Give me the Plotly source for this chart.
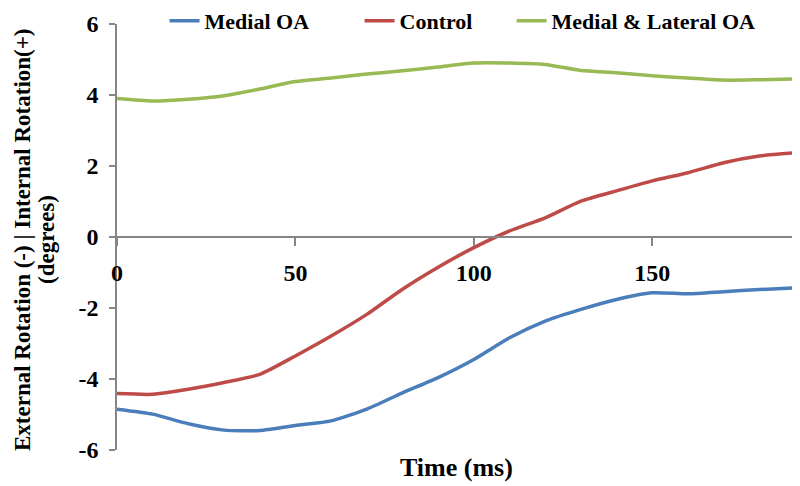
import plotly.graph_objects as go

time_ms = [0, 10, 20, 30, 40, 50, 60, 70, 80, 90, 100, 110, 120, 130, 140, 150, 160, 170, 180, 190]
medial_oa = [-4.85, -4.99, -5.26, -5.44, -5.45, -5.31, -5.18, -4.85, -4.39, -3.96, -3.45, -2.84, -2.37, -2.04, -1.76, -1.57, -1.60, -1.54, -1.48, -1.43]
control = [-4.41, -4.43, -4.29, -4.10, -3.87, -3.35, -2.79, -2.18, -1.47, -0.85, -0.30, 0.17, 0.54, 1.01, 1.30, 1.58, 1.81, 2.09, 2.28, 2.37]
medial_lateral_oa = [3.90, 3.83, 3.88, 3.98, 4.17, 4.38, 4.48, 4.59, 4.68, 4.79, 4.90, 4.90, 4.86, 4.69, 4.63, 4.54, 4.48, 4.42, 4.43, 4.45]

x_ticks = [0, 50, 100, 150]
y_ticks = [-6, -4, -2, 0, 2, 4, 6]
y_tick_labels = ["-6", "-4", "-2", "0", "2", "4", "6"]

FONT = "Liberation Serif"
LEG_FONT = dict(family=FONT, size=22, color="black", weight="bold")

fig = go.Figure()
series = [
    ("Medial OA", medial_oa, "#4A7EBB", "legend", 0.0701),
    ("Control", control, "#BE4B48", "legend2", 0.3577),
    ("Medial & Lateral OA", medial_lateral_oa, "#98B954", "legend3", 0.5819),
]
legends = {}
for name, vals, color, leg, lx in series:
    fig.add_trace(go.Scatter(
        x=time_ms, y=vals, name=name, mode="lines", legend=leg,
        line=dict(color=color, width=3.5, shape="spline", smoothing=0.6),
    ))
    legends[leg] = dict(
        orientation="h", x=lx, xanchor="left", y=1.007, yanchor="middle",
        font=LEG_FONT, bgcolor="rgba(0,0,0,0)", itemwidth=30,
    )

fig.update_layout(
    width=800, height=486,
    margin=dict(l=109, r=13, t=16, b=44, autoexpand=False),
    paper_bgcolor="white", plot_bgcolor="white",
    font=dict(family=FONT, color="black"),
    showlegend=True,
    **legends,
    xaxis=dict(
        range=[0, 190], anchor="free", position=0.5,
        showline=True, linecolor="#868686", linewidth=1.5,
        ticks="outside", ticklen=8, tickcolor="#868686", tickwidth=1.5,
        tickvals=x_ticks, ticklabelstandoff=6,
        tickfont=dict(family=FONT, size=24, color="black", weight="bold"),
        showgrid=False, zeroline=False,
    ),
    yaxis=dict(
        range=[-6, 6], tickvals=y_ticks, ticktext=y_tick_labels,
        showline=True, linecolor="#868686", linewidth=1.5,
        ticks="outside", ticklen=6, tickcolor="#868686", tickwidth=1.5,
        ticklabelstandoff=6,
        tickfont=dict(family=FONT, size=24, color="black", weight="bold"),
        showgrid=False, zeroline=False,
    ),
    annotations=[
        dict(text="External Rotation (-) | Internal Rotation(+)", xref="paper", yref="paper",
             x=-0.1386, y=0.493, xanchor="center", yanchor="middle", textangle=-90, showarrow=False,
             font=dict(family=FONT, size=23, color="black", weight="bold")),
        dict(text="(degrees)", xref="paper", yref="paper",
             x=-0.1032, y=0.493, xanchor="center", yanchor="middle", textangle=-90, showarrow=False,
             font=dict(family=FONT, size=23, color="black", weight="bold")),
        dict(text="Time (ms)", xref="paper", yref="paper",
             x=0.5, y=-0.04, xanchor="center", yanchor="middle", showarrow=False,
             font=dict(family=FONT, size=26, color="black", weight="bold")),
    ],
)

fig.write_html("out.html")
